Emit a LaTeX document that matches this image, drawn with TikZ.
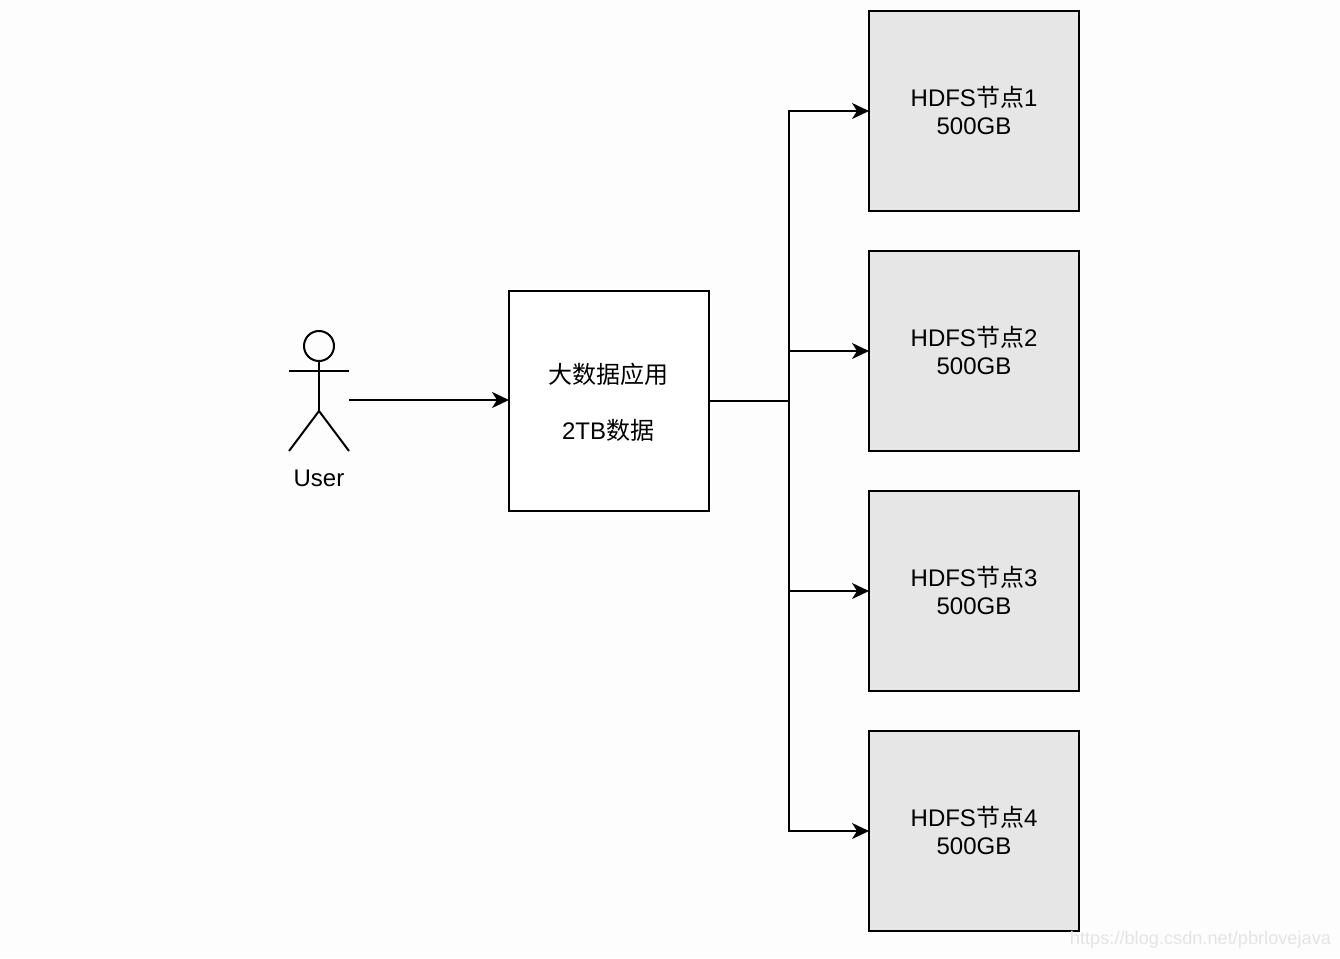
\documentclass[tikz,border=0pt]{standalone}
\usepackage{fontspec}
\setmainfont{Liberation Sans}
\newfontfamily\cjk{Noto Sans CJK SC}
\usetikzlibrary{arrows.meta,positioning}
\newcommand{\zh}[1]{{\cjk #1}}
\tikzset{
  box/.style={draw=black,line width=2pt,inner sep=0pt,outer sep=0pt,align=center,
    font=\fontsize{24}{28}\selectfont},
  appbox/.style={box,fill=white,minimum width=200pt,minimum height=220pt},
  hdfsbox/.style={box,fill=boxgray,minimum width=210pt,minimum height=200pt},
  link/.style={draw=black,line width=2pt,-{Stealth[length=17pt,width=16pt,inset=5pt]}},
  trunkline/.style={draw=black,line width=2pt},
  figure line/.style={draw=black,line width=2pt},
  lbl/.style={inner sep=0pt,outer sep=0pt,font=\fontsize{24}{28}\selectfont},
  mark text/.style={inner sep=0pt,outer sep=0pt,text=marktext,font=\fontsize{18.2}{22}\selectfont}
}
\definecolor{boxgray}{HTML}{E6E6E6}
\definecolor{marktext}{HTML}{E4E4E4}
\definecolor{paper}{HTML}{FDFDFD}
\begin{document}
\begin{tikzpicture}[x=1pt,y=-1pt]
\useasboundingbox (0,0) rectangle (1340,958);
\fill[paper] (0,0) rectangle (1340,958);
% stick figure
\node[draw=black,line width=2pt,circle,minimum size=30pt,inner sep=0pt,outer sep=0pt] (head) at (319,346) {};
\coordinate (hipc) at (319,411);
\coordinate (armL) at (289,371);
\coordinate (armR) at (349,371);
\coordinate (armC) at (319,371);
\coordinate (footL) at (289,451);
\coordinate (footR) at (349,451);
\draw[figure line] (head.south) -- (hipc);
\draw[figure line] (armL) -- (armR);
\draw[figure line] (footL) -- (hipc) -- (footR);
\node[lbl] (user) at (319,478) {User};
\coordinate (userport) at (349,400);
% boxes
\node[appbox] (app) at (609,401) {};
\node[lbl] (apptop) at (608,374) {\zh{大数据应用}};
\node[lbl] (appbot) at (608,430) {2TB\zh{数据}};
\node[hdfsbox] (n1) at (974,111) {HDFS\zh{节点}1\\500GB};
\node[hdfsbox] (n2) at (974,351) {HDFS\zh{节点}2\\500GB};
\node[hdfsbox] (n3) at (974,591) {HDFS\zh{节点}3\\500GB};
\node[hdfsbox] (n4) at (974,831) {HDFS\zh{节点}4\\500GB};
% connectors
\coordinate (trunk) at (789,401);
\draw[link] (userport) -- (userport -| app.west);
\draw[trunkline] (app.east) -- (trunk);
\draw[link] (trunk) |- (n1.west);
\draw[link] (trunk) |- (n2.west);
\draw[link] (trunk) |- (n3.west);
\draw[link] (trunk) |- (n4.west);
% watermark
\node[mark text,anchor=east] (mark) at (1331,940) {https://blog.csdn.net/pbrlovejava};
\end{tikzpicture}
\end{document}
